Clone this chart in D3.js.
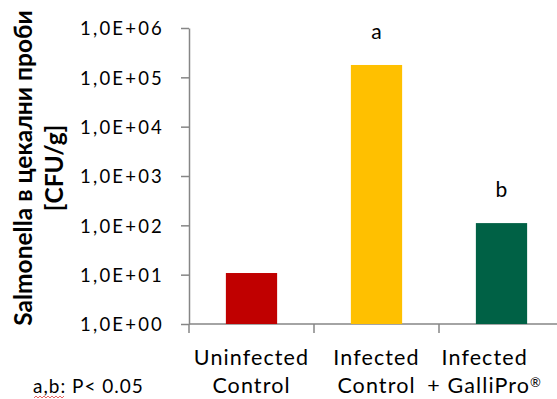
<!DOCTYPE html>
<html>
<head>
<meta charset="utf-8">
<script src="https://cdn.jsdelivr.net/npm/d3@7"></script>
<style>
  body { margin: 0; background: #fff; }
  svg text { font-family: Lato, "Open Sans", sans-serif; fill: #000; }
</style>
</head>
<body>
<div id="chart"></div>
<script>
// data
var groups = ["Uninfected Control", "Infected Control", "Infected + GalliPro"];
var groupLines = [["Uninfected", "Control"], ["Infected", "Control"], ["Infected", "+ GalliPro"]];
var counts = [10.8, 178000, 111];
var letters = ["", "a", "b"];
var colors = ["#C00000", "#FFC000", "#006145"];
var yTicks = [1, 10, 100, 1000, 10000, 100000, 1000000];
var yTickLabels = ["1,0E+00", "1,0E+01", "1,0E+02", "1,0E+03", "1,0E+04", "1,0E+05", "1,0E+06"];

var W = 557, H = 399;
var margin = {top: 28, left: 189, bottom: 75};
var plotBottom = H - margin.bottom; // 324

var svg = d3.select("#chart").append("svg")
    .attr("width", W)
    .attr("height", H);

var y = d3.scaleLog()
    .domain([1, 1000000])
    .range([plotBottom, margin.top]);

var x = d3.scaleBand()
    .domain(groups)
    .range([margin.left, margin.left + 375])
    .paddingInner(0.59)
    .paddingOuter(0.295);

var axisColor = "#868686";

// y axis
var yAxis = svg.append("g")
    .attr("transform", "translate(" + margin.left + ",0)")
    .call(d3.axisLeft(y)
        .tickValues(yTicks)
        .tickFormat(function (d, i) { return yTickLabels[i]; })
        .tickSize(8)
        .tickSizeOuter(0)
        .tickPadding(17));
yAxis.select(".domain").attr("stroke", axisColor).attr("stroke-width", 1.5);
yAxis.selectAll(".tick line").attr("stroke", axisColor).attr("stroke-width", 1.5);
yAxis.selectAll(".tick text")
    .style("font-size", "18.5px")
    .style("letter-spacing", "2.2px")
    .attr("dy", "0.36em");

// x axis: line with ticks at the category boundaries
var bounds = groups.map(function (g) { return x(g) - x.step() * x.paddingInner() / 2; });
bounds.push(bounds[bounds.length - 1] + x.step());
var xAxis = svg.append("g");
xAxis.append("line")
    .attr("x1", margin.left).attr("x2", margin.left + 375)
    .attr("y1", plotBottom).attr("y2", plotBottom)
    .attr("stroke", axisColor).attr("stroke-width", 1.5);
xAxis.selectAll(".bt")
    .data(bounds)
    .enter().append("line")
    .attr("class", "bt")
    .attr("x1", function (d) { return d; }).attr("x2", function (d) { return d; })
    .attr("y1", plotBottom).attr("y2", plotBottom + 9)
    .attr("stroke", axisColor).attr("stroke-width", 1.5);

// bars
svg.selectAll(".bar")
    .data(groups)
    .enter().append("rect")
    .attr("class", "bar")
    .attr("x", function (d) { return x(d); })
    .attr("width", x.bandwidth())
    .attr("y", function (d, i) { return y(counts[i]); })
    .attr("height", function (d, i) { return plotBottom - y(counts[i]); })
    .attr("fill", function (d, i) { return colors[i]; });

// significance letters
svg.selectAll(".letter")
    .data(groups)
    .enter().append("text")
    .attr("class", "letter")
    .attr("x", function (d) { return x(d) + x.bandwidth() / 2; })
    .attr("y", function (d, i) { return y(counts[i]) - 26; })
    .attr("text-anchor", "middle")
    .style("font-size", "21px")
    .text(function (d, i) { return letters[i]; });

// category labels
var cats = svg.selectAll(".cat")
    .data(groups)
    .enter().append("text")
    .attr("class", "cat")
    .attr("text-anchor", "middle")
    .style("font-size", "21.5px")
    .style("letter-spacing", "1.1px");
cats.each(function (d, i) {
    var t = d3.select(this);
    var cx = x(d) + x.bandwidth() / 2;
    groupLines[i].forEach(function (line, j) {
        var ts = t.append("tspan")
            .attr("x", cx)
            .attr("y", 365 + j * 28)
            .text(line);
        if (i === 2 && j === 1) {
            ts.append("tspan")
                .attr("dy", "-0.5em")
                .style("font-size", "13px")
                .text("®");
        }
    });
    // keep the label inside the chart area, like the spreadsheet does
    var bb = this.getBBox();
    var over = bb.x + bb.width - (W - 15);
    if (over > 0) t.attr("transform", "translate(" + (-over) + ",0)");
});

// y title
var title = svg.append("text")
    .attr("transform", "translate(0,168) rotate(-90)")
    .attr("text-anchor", "middle")
    .style("font-size", "24.5px")
    .style("font-weight", "bold");
title.append("tspan").attr("x", 0).attr("y", 32).text("Salmonella в цекални проби");
title.append("tspan").attr("x", 0).attr("y", 63).text("[CFU/g]");

// footnote
svg.append("text")
    .attr("x", 33)
    .attr("y", 393)
    .style("font-size", "19px")
    .style("letter-spacing", "1px")
    .text("a,b: P< 0.05");

// red wavy spell-check underline under "a,b"
var wave = d3.range(34, 66, 2).map(function (px, i) { return [px, i % 2 ? 396 : 398]; });
svg.append("path")
    .attr("d", d3.line()(wave))
    .attr("fill", "none")
    .attr("stroke", "#e04040")
    .attr("stroke-width", 0.8);
</script>
</body>
</html>
